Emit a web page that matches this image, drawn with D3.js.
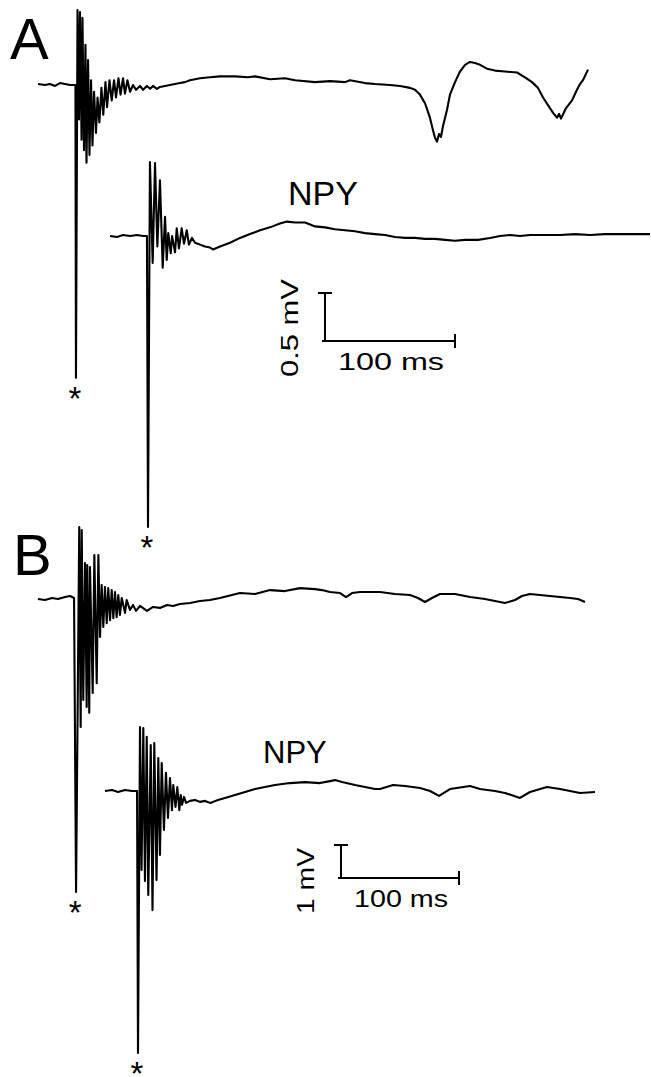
<!DOCTYPE html>
<html>
<head>
<meta charset="utf-8">
<script src="https://cdn.jsdelivr.net/npm/d3@7"></script>
<style>
  body { margin: 0; background: #fff; }
  svg { display: block; }
  .trace { fill: none; stroke: #000; stroke-width: 2.1; stroke-linejoin: round; }
  .bar { stroke: #000; stroke-width: 2; }
  text { font-family: "Liberation Sans", Arial, Helvetica, sans-serif; fill: #000; }
</style>
</head>
<body>
<svg id="chart" width="651" height="1077"></svg>
<script>
// [time ms from stimulus, mV]
const traceA_control = [
  [-30, 0.01], [-24.6, 0], [-20.8, 0.01], [-16.9, -0.01], [-13.1, 0.02], [-9.2, 0.01], [-5.4, 0], [-1.2, 0],
  [-0.8, -3.05], [0.4, 0.78], [1.5, -0.36], [2.3, 0.76], [3.5, -0.57], [4.2, 0.70], [5.4, -0.68], [6.5, 0.42],
  [7.3, -0.81], [8.5, 0.26], [9.6, -0.73], [10.8, 0.05], [11.9, -0.63], [13.1, -0.07], [14.6, -0.50], [15.8, -0.13],
  [17.2, -0.39], [18.8, -0.03], [20.2, -0.31], [21.9, 0.03], [23.1, -0.23], [25, 0.05], [26.7, -0.16], [28.5, 0.05],
  [30, -0.13], [31.9, 0.07], [33.5, -0.10], [35.4, 0.07], [36.9, -0.09], [38.8, 0.05], [40.8, -0.07], [43.1, 0],
  [45.4, -0.05], [48.5, -0.01], [50.8, -0.05], [53.8, -0.01], [56.2, -0.04], [58.5, -0.01], [61.5, -0.04], [63.8, -0.02],
  [67.7, -0.01], [71.5, 0], [75.4, 0.01], [79.2, 0.02], [83.1, 0.03], [86.9, 0.05], [94.6, 0.07], [102.3, 0.08],
  [110, 0.09], [121.5, 0.09], [131.5, 0.08], [136.9, 0.09], [148.5, 0.06], [160, 0.07], [167.7, 0.05], [183.1, 0.03],
  [194.6, 0.04], [206.2, 0.03], [210, 0.05], [221.5, 0.02], [229.2, 0.01], [240.8, 0], [248.5, -0.01], [256.2, -0.03],
  [260, -0.05], [263.8, -0.10], [267.7, -0.19], [271.5, -0.34], [273.8, -0.47], [275.4, -0.55], [276.9, -0.59], [278.5, -0.51],
  [280, -0.54], [281.5, -0.43], [284.6, -0.26], [286.9, -0.10], [290.8, 0.03], [294.6, 0.14], [298.5, 0.21], [302.3, 0.24],
  [306.2, 0.23], [310, 0.21], [315.4, 0.17], [321.5, 0.15], [329.2, 0.14], [338.5, 0.13], [344.6, 0.08], [350, 0.03],
  [354.6, -0.03], [358.5, -0.13], [362.3, -0.21], [366.2, -0.29], [369.2, -0.34], [370.8, -0.30], [372.3, -0.35], [376.2, -0.24],
  [380.8, -0.16], [384.6, -0.05], [386.9, 0.01], [389.2, 0.05], [393.1, 0.16]
];

const traceA_npy = [
  [-29.2, 0], [-23.8, -0.01], [-19.2, 0.01], [-13.8, 0], [-8.5, 0.01], [-3.8, 0], [-0.8, 0],
  [0, -3.03], [1.5, 0.77], [3.6, -0.28], [5.4, 0.76], [7.2, -0.11], [9.2, 0.58], [11.3, -0.33], [13.1, 0.20],
  [14.4, -0.25], [15.6, 0.03], [17.5, -0.18], [18.5, 0], [20.8, -0.17], [22.1, 0.08], [23.8, -0.13], [25.9, 0.08],
  [27.7, -0.08], [29.8, 0.06], [31.5, -0.09], [33.8, -0.02], [36.2, -0.07], [40, -0.09], [43.8, -0.11], [47.7, -0.12],
  [50, -0.14], [55.4, -0.11], [63.1, -0.07], [70.8, -0.02], [78.5, 0.02], [86.2, 0.06], [93.8, 0.09], [101.5, 0.13],
  [106.9, 0.15], [113.1, 0.14], [120.8, 0.14], [128.5, 0.10], [136.2, 0.09], [143.8, 0.07], [151.5, 0.06], [159.2, 0.05],
  [166.9, 0.03], [174.6, 0.02], [182.3, 0.01], [190, -0.01], [197.7, -0.02], [205.4, -0.02], [213.1, -0.03], [220.8, -0.03],
  [228.5, -0.04], [236.2, -0.05], [243.8, -0.04], [253.8, -0.04], [263.1, -0.02], [270.8, 0], [278.5, 0.01], [286.2, 0],
  [293.8, 0.01], [301.5, 0.01], [309.2, 0.01], [316.9, 0.01], [328.5, 0.02], [340, 0.01], [351.5, 0.02], [363.1, 0.02],
  [374.6, 0.02], [386.2, 0.02]
];

const traceB_control = [
  [-33.1, 0], [-27.1, -0.03], [-21.2, 0.03], [-16.1, 0], [-10.2, 0.06], [-5.9, 0.09], [-2.5, 0.03],
  [-0.8, -8.88], [1.9, 2.18], [3.1, -3.88], [4.0, 2.09], [5.3, -3.06], [6.8, 1.09], [8.2, -3.27], [8.7, 1.03],
  [10.4, -3.45], [11.0, 0.97], [13.3, -2.85], [14.7, 1.33], [16.7, -2.55], [18.1, 1.33], [19.5, -1.15], [20.9, 0.42],
  [22.3, -0.85], [23.7, 0.36], [25.2, -0.73], [26.5, 0.33], [28, -0.64], [29.4, 0.27], [30.8, -0.58], [32.2, 0.21],
  [33.6, -0.55], [35, 0.12], [36.4, -0.48], [37.9, 0.03], [40.7, -0.42], [42.1, -0.03], [44.9, -0.33], [47.5, -0.18],
  [50, -0.36], [53.4, -0.21], [59.3, -0.36], [64.4, -0.24], [70.3, -0.27], [76.3, -0.18], [81.4, -0.21], [87.3, -0.15],
  [95.8, -0.12], [104.2, -0.06], [112.7, -0.03], [121.2, 0.03], [138.1, 0.18], [150.8, 0.15], [163.6, 0.27], [176.3, 0.24],
  [189, 0.33], [201.7, 0.30], [207.6, 0.27], [214.4, 0.21], [222.9, 0.18], [228, 0.06], [233.1, 0.18], [239.8, 0.21],
  [248.3, 0.21], [256.8, 0.21], [269.5, 0.15], [282.2, 0.12], [289, 0.03], [294.9, -0.09], [300.8, 0.03], [307.6, 0.15],
  [320.3, 0.15], [333.1, 0.06], [345.8, 0], [354.2, -0.06], [362.7, -0.12], [371.2, -0.03], [377.1, 0.09], [383.9, 0.15],
  [392.4, 0.12], [400.8, 0.09], [409.3, 0.06], [417.8, 0.03], [424.6, 0], [430.5, -0.09]
];

const traceB_npy = [
  [-28, 0], [-22, 0.03], [-16.9, -0.03], [-11, 0.03], [-5.1, 0], [-0.8, 0],
  [0, -7.94], [1.7, 1.94], [3.0, -2.39], [4.5, 1.91], [5.9, -2.73], [7.4, 1.64], [8.7, -3.15], [10.8, 1.39],
  [12.3, -3.61], [13.8, 1.45], [15.7, -2.70], [17.2, 1.00], [18.6, -1.94], [20.1, 0.85], [22.0, -1.18], [23.7, 0.55],
  [25.4, -0.82], [27.1, 0.39], [28.8, -0.58], [29.9, 0.18], [31.8, -0.48], [33.3, 0.12], [35.0, -0.58], [36.2, -0.12],
  [37.3, -0.42], [39.0, -0.18], [40.7, -0.36], [44.1, -0.30], [48.3, -0.27], [52.5, -0.33], [56.8, -0.30], [61.0, -0.36],
  [63.6, -0.33], [67.8, -0.27], [73.7, -0.21], [82.2, -0.12], [90.7, -0.03], [99.2, 0.06], [107.6, 0.12], [116.1, 0.18],
  [128.8, 0.24], [141.5, 0.27], [154.2, 0.24], [162.7, 0.30], [166.9, 0.33], [172.9, 0.27], [183.9, 0.18], [192.4, 0.12],
  [200.8, 0.06], [205.1, 0.06], [216.1, 0.18], [226.3, 0.15], [239.0, 0.09], [247.5, 0], [255.1, -0.15], [264.4, 0.06],
  [281.4, 0.15], [289.8, 0.06], [302.5, 0], [311.0, -0.06], [323.7, -0.21], [332.2, -0.03], [346.6, 0.12], [357.6, 0.06],
  [366.1, 0], [374.6, -0.06], [387.3, -0.03]
];

const panelLabels = ["A", "B"];
const traceLabel = "NPY";
const timeBarLabel = "100 ms";
const voltBarLabels = ["0.5 mV", "1 mV"];
const barTime = 100;        // ms
const barVolts = [0.5, 1];  // mV

const svg = d3.select("#chart");

// one set of scales per trace: stimulus time and baseline placed per sweep
function makeScales(x0, pxPer100ms, y0, pxPerMV) {
  return {
    x: d3.scaleLinear().domain([0, 100]).range([x0, x0 + pxPer100ms]),
    y: d3.scaleLinear().domain([0, 1]).range([y0, y0 - pxPerMV])
  };
}

const sA1 = makeScales(77, 130, 85, 96);
const sA2 = makeScales(148, 130, 236, 96);
const sB1 = makeScales(77, 118, 599, 33);
const sB2 = makeScales(138, 118, 791, 33);

const traces = [
  { data: traceA_control, s: sA1 },
  { data: traceA_npy, s: sA2 },
  { data: traceB_control, s: sB1 },
  { data: traceB_npy, s: sB2 }
];

traces.forEach(tr => {
  const line = d3.line().x(d => tr.s.x(d[0])).y(d => tr.s.y(d[1]));
  svg.append("path").attr("class", "trace").attr("d", line(tr.data));

  // asterisk under the clipped stimulus artefact
  const lowest = d3.least(tr.data, d => d[1]);
  svg.append("text")
    .attr("x", tr.s.x(lowest[0]) - 1)
    .attr("y", tr.s.y(lowest[1]) + 32)
    .attr("text-anchor", "middle")
    .attr("font-size", 33)
    .text("*");
});

// panel letters
svg.append("text").attr("x", 10).attr("y", 59).attr("font-size", 58).text(panelLabels[0]);
svg.append("text").attr("x", 13).attr("y", 575).attr("font-size", 58).text(panelLabels[1]);

// NPY labels
svg.append("text").attr("x", 288).attr("y", 205).attr("font-size", 34).text(traceLabel);
svg.append("text").attr("x", 263).attr("y", 763).attr("font-size", 31).text(traceLabel);

// scale bars
function scaleBar(s, ox, oy, mv, voltLabel, textLen) {
  const w = s.x(barTime) - s.x(0);
  const h = s.y(0) - s.y(mv);
  const g = svg.append("g");
  g.append("line").attr("class", "bar").attr("x1", ox).attr("x2", ox).attr("y1", oy).attr("y2", oy - h);
  g.append("line").attr("class", "bar").attr("x1", ox - 7).attr("x2", ox + 7).attr("y1", oy - h).attr("y2", oy - h);
  g.append("line").attr("class", "bar").attr("x1", ox - 3).attr("x2", ox + w).attr("y1", oy).attr("y2", oy);
  g.append("line").attr("class", "bar").attr("x1", ox + w).attr("x2", ox + w).attr("y1", oy - 7).attr("y2", oy + 7);
  g.append("text")
    .attr("x", ox + 13).attr("y", oy + 29)
    .attr("font-size", 24)
    .attr("textLength", w - 24).attr("lengthAdjust", "spacingAndGlyphs")
    .text(timeBarLabel);
  g.append("text")
    .attr("transform", `translate(${ox - 27},${oy + 36}) rotate(-90)`)
    .attr("font-size", 24)
    .attr("textLength", textLen).attr("lengthAdjust", "spacingAndGlyphs")
    .text(voltLabel);
}

scaleBar(sA2, 325, 341, barVolts[0], voltBarLabels[0], 98);
scaleBar(sB2, 341, 878, barVolts[1], voltBarLabels[1], 66);
</script>
</body>
</html>
